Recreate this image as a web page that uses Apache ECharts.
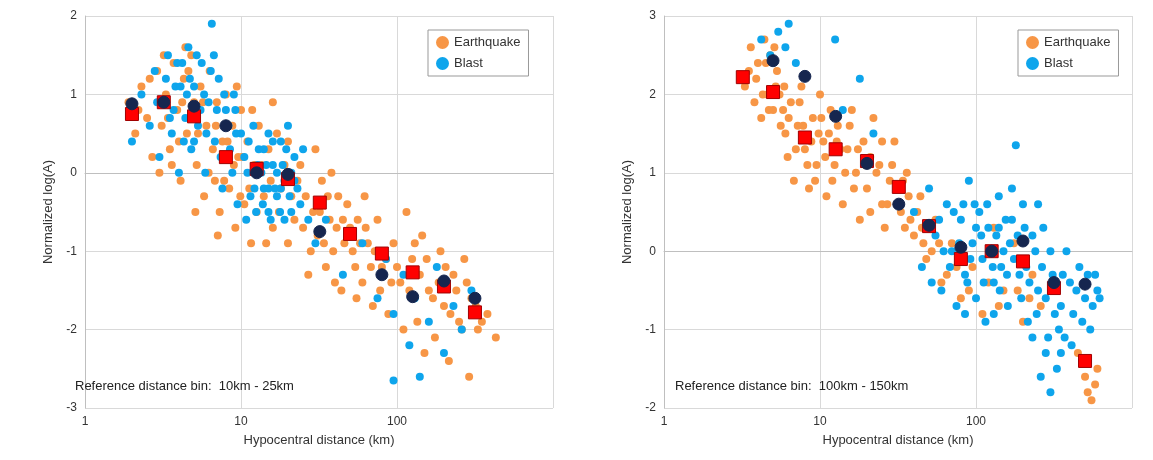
<!DOCTYPE html>
<html>
<head>
<meta charset="utf-8">
<script src="https://cdn.jsdelivr.net/npm/echarts@6/dist/echarts.min.js"></script>
<style>html,body{margin:0;background:#fff}#c{width:1153px;height:460px}</style>
</head>
<body>
<div id="c"></div>
<script>
// left panel (reference bin 10-25 km)
const quakeL = [[1.9,0.9],[2.1,0.5],[2.3,1.1],[2.5,0.7],[2.7,0.2],[2.9,1.3],[3.1,0.6],[3.3,1.0],[3.5,0.3],[3.7,1.4],[3.9,0.8],[4.1,-0.1],[4.3,1.2],[4.5,0.5],[4.8,1.5],[5.0,0.9],[5.2,0.1],[5.5,1.1],[5.8,-0.3],[6.0,0.6],[6.3,1.3],[6.6,0.3],[7.0,0.9],[7.3,-0.5],[7.6,0.4],[8.0,1.0],[8.4,-0.2],[8.8,0.6],[9.2,-0.7],[9.6,0.2],[10,0.8],[10.5,-0.4],[11,0.4],[11.6,-0.9],[12.2,0.1],[13,0.6],[14,-0.3],[15,0.3],[16,-0.7],[17,0.5],[18,-0.2],[20,0.4],[22,-0.6],[24,0.1],[26,-0.3],[28,-1.0],[30,0.3],[32,-0.5],[35,-1.2],[38,0.0],[41,-0.7],[44,-1.5],[48,-0.4],[52,-1.0],[56,-0.6],[60,-1.4],[65,-0.9],[70,-1.7],[75,-0.6],[80,-1.2],[88,-1.8],[95,-0.9],[105,-1.4],[115,-0.5],[125,-1.1],[135,-1.9],[145,-0.8],[160,-1.5],[175,-2.1],[190,-1.0],[200,-1.7],[215,-2.4],[230,-1.3],[250,-1.9],[270,-1.1],[300,-1.6],[330,-2.0],[380,-1.8],[430,-2.1],[36,-0.3],[46,-0.9],[62,-0.3],[68,-1.2],[3.0,0.0],[4.0,0.4],[6.8,-0.1],[9.9,-0.3],[14.5,-0.9],[20,-0.9],[27,-1.3],[34,-0.9],[40,-1.4],[55,-1.6],[110,-2.0],[150,-2.3],[290,-2.6],
  [2.2,0.8],[2.6,1.2],[3.4,0.7],[3.6,0.1],[4.2,0.9],[4.6,1.3],[5.3,0.5],[5.7,0.9],[6.2,0.0],[6.9,0.6],[7.8,-0.1],[8.2,0.4],[9.0,0.1],[10.2,0.2],[11.3,-0.2],[12.6,-0.5],[13.5,0.1],[15.5,-0.1],[17.5,-0.5],[19,0.1],[21,-0.3],[23,-0.1],[25,-0.7],[29,-0.5],[31,-0.8],[33,-0.1],[37,-0.6],[39,-1.0],[42,-0.3],[45,-0.6],[50,-0.7],[54,-1.2],[58,-0.9],[63,-0.7],[72,-1.0],[78,-1.5],[85,-1.1],[92,-1.4],[100,-1.2],[120,-1.5],[130,-0.9],[140,-1.3],[155,-1.1],[170,-1.6],[185,-1.4],[205,-1.2],[220,-1.8],[240,-1.5],[260,-2.0],[280,-1.4],[320,-1.7],[350,-1.9],[5.1,-0.5],[7.1,-0.8],[9.4,1.1],[11.8,0.8],[16,0.9],[4.4,1.6],[3.2,1.5]];
const blastL = [[2.0,0.4],[2.3,1.0],[2.6,0.6],[2.8,1.3],[3.0,0.2],[3.2,0.9],[3.4,1.5],[3.6,0.5],[3.8,1.1],[4.0,0.0],[4.2,1.4],[4.4,0.7],[4.6,1.6],[4.8,0.3],[5.0,1.1],[5.3,0.6],[5.6,1.4],[5.9,0.0],[6.2,0.9],[6.5,1.9],[6.8,0.4],[7.2,1.2],[7.6,-0.2],[8.0,0.8],[8.5,0.3],[9.0,1.0],[9.5,-0.4],[10,0.5],[11,0.0],[12,0.6],[12.5,-0.5],[13,0.3],[14,-0.2],[15,0.5],[15.5,-0.6],[16,0.1],[17,-0.3],[18,0.4],[19,-0.1],[20,0.6],[21,-0.5],[22,0.2],[23,-0.2],[25,0.3],[27,-0.6],[30,-0.9],[35,-0.6],[45,-1.3],[60,-0.9],[75,-1.6],[85,-1.1],[95,-1.8],[110,-1.3],[120,-2.2],[130,-1.6],[140,-2.6],[160,-1.9],[180,-1.2],[200,-2.3],[230,-1.7],[260,-2.0],[300,-1.5],[95,-2.65],[11.5,-0.3],[13.5,0.0],[16.5,-0.2],[18.5,0.1],[21,0.0],[14,0.3],[4.5,1.0],[5.5,0.8],[3.7,0.8],
  [2.9,0.9],[3.3,1.2],[3.5,0.7],[4.1,1.1],[4.3,0.4],[4.7,1.2],[5.2,1.5],[5.8,1.0],[6.0,0.5],[6.4,1.3],[7.0,0.8],[7.4,0.2],[7.8,1.0],[8.3,0.6],[8.8,0.0],[9.3,0.5],[10.5,0.2],[11.2,0.4],[12.2,-0.2],[12.8,0.1],[13.8,-0.4],[14.5,0.1],[15,-0.2],[16,0.4],[17,0.0],[17.8,-0.5],[18,-0.2],[19.5,0.3],[20.5,-0.3],[22,-0.1],[24,-0.4],[19,-0.6],[15,-0.5],[10.8,-0.6],[9.2,0.8],[6.7,1.5],[5.0,0.4],[3.9,1.4]];
const quakeMeanL = [[2,0.75],[3.2,0.9],[5,0.72],[8,0.2],[12.6,0.05],[20,-0.08],[32,-0.38],[50,-0.78],[80,-1.03],[126,-1.27],[200,-1.45],[316,-1.78]];
const blastMeanL = [[2,0.88],[3.2,0.9],[5,0.85],[8,0.6],[12.6,0.0],[20,-0.02],[32,-0.75],[80,-1.3],[126,-1.58],[200,-1.38],[316,-1.6]];

// right panel (reference bin 100-150 km)
const quakeR = [[3.3,2.1],[3.6,2.6],[3.8,1.9],[4.0,2.4],[4.2,1.7],[4.4,2.7],[4.6,2.0],[4.8,2.5],[5.0,1.8],[5.3,2.3],[5.6,1.6],[5.9,2.1],[6.2,1.2],[6.5,1.9],[6.8,0.9],[7.2,1.6],[7.6,2.1],[8.0,1.3],[8.5,0.8],[9.0,1.7],[9.5,1.1],[10,2.0],[10.5,1.4],[11,0.7],[11.7,1.8],[12.4,1.1],[13,1.6],[14,0.6],[15,1.3],[16,1.8],[17,1.0],[18,0.4],[19,1.4],[20,0.8],[22,1.7],[24,1.1],[26,0.3],[28,0.9],[30,1.4],[33,0.5],[36,1.0],[40,0.2],[44,0.7],[48,-0.1],[55,0.4],[60,-0.4],[70,0.1],[80,-0.6],[95,-0.2],[110,-0.8],[130,0.3],[150,-0.5],[175,0.1],[200,-0.9],[230,-0.3],[260,-0.7],[450,-1.3],[500,-1.6],[550,-1.9],[600,-1.5],[21,1.2],[25,0.6],[34,0.9],[38,0.4],[45,0.3],[13.5,1.3],[9.8,1.5],[6.0,1.5],[5.2,2.1],
  [3.5,2.3],[3.9,2.2],[4.3,2.0],[4.5,2.4],[4.7,1.8],[5.1,2.6],[5.5,2.0],[5.8,1.8],[6.3,1.7],[7.0,1.3],[7.4,1.9],[7.8,1.6],[8.3,1.1],[8.8,1.4],[9.3,0.9],[10.2,1.7],[10.8,1.2],[11.4,1.5],[12,0.9],[12.8,1.4],[14.5,1.0],[15.5,1.6],[16.5,0.8],[17.5,1.3],[19.5,1.1],[21,0.5],[23,1.0],[25,1.4],[27,0.6],[29,1.1],[31,0.6],[35,0.3],[37,0.7],[42,0.5],[46,0.1],[52,0.0],[58,0.1],[65,-0.3],[75,-0.2],[90,-0.5],[120,-0.4],[140,-0.7],[185,-0.5],[220,-0.6],[480,-1.4],[520,-1.8],[580,-1.7]];
const blastR = [[4.2,2.7],[4.8,2.5],[5.4,2.8],[6.0,2.6],[6.3,2.9],[7.0,2.4],[12.5,2.7],[14,1.8],[18,2.2],[22,1.5],[40,0.5],[45,-0.2],[50,0.8],[55,0.2],[60,-0.5],[65,0.6],[70,0.0],[75,-0.7],[80,0.4],[85,-0.3],[90,0.9],[95,0.1],[100,-0.6],[105,0.5],[110,-0.1],[115,-0.9],[120,0.3],[130,-0.4],[140,0.7],[150,0.0],[160,-0.7],[170,0.4],[180,1.35],[190,-0.3],[200,0.6],[215,-0.9],[230,0.2],[250,-0.5],[270,0.3],[290,-1.1],[310,-0.3],[330,-1.5],[350,-0.7],[380,0.0],[410,-1.2],[440,-0.5],[480,-0.9],[520,-0.3],[560,-0.7],[600,-0.5],[260,-1.6],[300,-1.8],[88,-0.4],[125,0.0],[145,-0.2],[165,0.1],[100,0.3],[72,0.5],[210,-0.2],[340,-1.0],[400,-0.4],
  [48,0.3],[52,-0.4],[58,0.4],[62,0.0],[68,-0.2],[78,0.1],[83,0.6],[92,-0.1],[98,0.6],[108,0.2],[112,-0.4],[118,0.6],[128,-0.2],[135,0.2],[142,-0.5],[155,0.4],[158,-0.3],[175,-0.1],[185,0.2],[195,-0.6],[205,0.3],[220,-0.4],[240,0.0],[245,-0.8],[265,-0.2],[280,-0.6],[300,0.0],[320,-0.8],[360,-0.3],[370,-1.1],[420,-0.8],[460,-0.2],[500,-0.6],[540,-1.0],[580,-0.3],[620,-0.6],[280,-1.3],[350,-1.3],[230,-1.1],[130,-0.8],[85,-0.8],[170,0.8],[250,0.6],[140,0.3]];
const quakeMeanR = [[3.2,2.22],[5,2.03],[8,1.45],[12.6,1.3],[20,1.15],[32,0.82],[50,0.32],[80,-0.1],[126,0.0],[200,-0.13],[316,-0.47],[500,-1.4]];
const blastMeanR = [[5,2.43],[8,2.23],[12.6,1.72],[20,1.12],[32,0.6],[50,0.33],[80,0.05],[126,0.0],[200,0.13],[316,-0.4],[500,-0.42]];

const orange = '#f79646', blue = '#0ea5ec';
const chart = echarts.init(document.getElementById('c'));

function xAx(i) {
  return {
    type: 'log', logBase: 10, min: 1, max: 1000, gridIndex: i,
    name: 'Hypocentral distance (km)', nameLocation: 'middle', nameGap: 26,
    nameTextStyle: { fontSize: 13, color: '#333' },
    axisLine: { lineStyle: { color: '#bfbfbf' } },
    axisTick: { show: false },
    axisLabel: { color: '#333', fontSize: 12, formatter: v => v >= 1000 ? '' : v },
    splitLine: { lineStyle: { color: '#d9d9d9' } }
  };
}
function yAx(i, mn, mx) {
  return {
    type: 'value', min: mn, max: mx, interval: 1, gridIndex: i,
    name: 'Normalized log(A)', nameLocation: 'middle', nameGap: 30,
    nameTextStyle: { fontSize: 13, color: '#333' },
    axisLine: { show: true, lineStyle: { color: '#bfbfbf' } },
    axisTick: { show: false },
    axisLabel: { color: '#333', fontSize: 12 },
    splitLine: { lineStyle: { color: '#d9d9d9' } }
  };
}
function cloud(name, data, color, i) {
  return { name, type: 'scatter', data, xAxisIndex: i, yAxisIndex: i, symbolSize: 8,
    itemStyle: { color, opacity: 1 }, silent: true };
}
function mean(data, sym, color, border, i) {
  return { type: 'scatter', data, xAxisIndex: i, yAxisIndex: i, symbol: sym,
    symbolSize: sym === 'rect' ? 13 : 12, z: 5,
    itemStyle: { color, borderColor: border, borderWidth: 1, opacity: 1 } };
}
function leg(left) {
  return { left, top: 30, orient: 'vertical', data: ['Earthquake', 'Blast'], icon: 'circle',
    itemWidth: 13, itemHeight: 13, itemGap: 8, padding: [6, 8],
    backgroundColor: '#fff', borderColor: '#999', borderWidth: 1,
    textStyle: { fontSize: 13, color: '#333' } };
}

chart.setOption({
  animation: false,
  grid: [
    { left: 85, top: 16, width: 468, height: 392 },
    { left: 664, top: 16, width: 468, height: 392 }
  ],
  xAxis: [xAx(0), xAx(1)],
  yAxis: [yAx(0, -3, 2), yAx(1, -2, 3)],
  legend: [leg(428), leg(1018)],
  graphic: [
    { type: 'text', left: 75, top: 380, z: 10, style: { text: 'Reference distance bin:  10km - 25km', fontSize: 13, fill: '#222' } },
    { type: 'text', left: 675, top: 380, z: 10, style: { text: 'Reference distance bin:  100km - 150km', fontSize: 13, fill: '#222' } }
  ],
  series: [
    cloud('Earthquake', quakeL, orange, 0),
    cloud('Blast', blastL, blue, 0),
    mean(quakeMeanL, 'rect', '#ff0000', '#a00000', 0),
    mean(blastMeanL, 'circle', '#16264f', '#16264f', 0),
    cloud('Earthquake', quakeR, orange, 1),
    cloud('Blast', blastR, blue, 1),
    mean(quakeMeanR, 'rect', '#ff0000', '#a00000', 1),
    mean(blastMeanR, 'circle', '#16264f', '#16264f', 1)
  ]
});
</script>
</body>
</html>
